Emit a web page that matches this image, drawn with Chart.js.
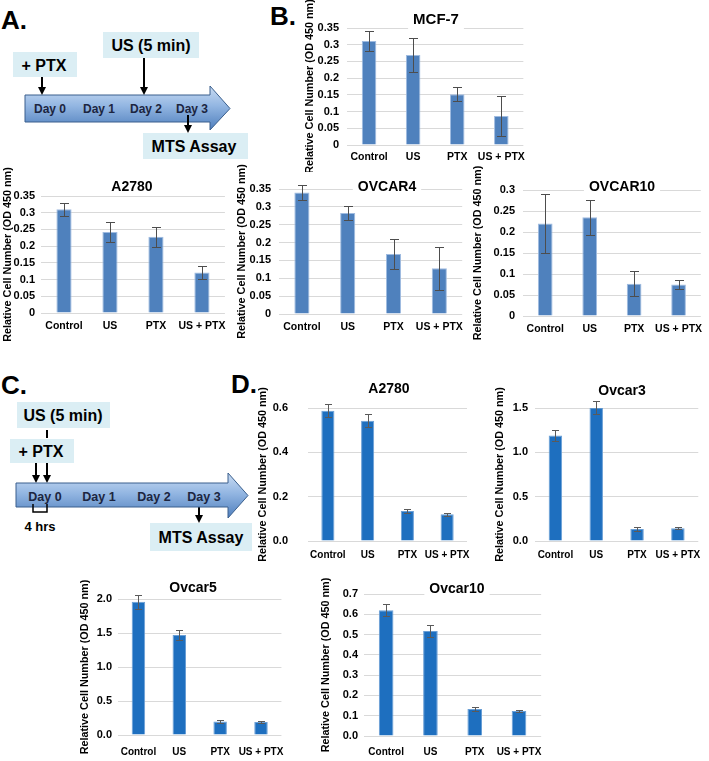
<!DOCTYPE html>
<html>
<head>
<meta charset="utf-8">
<script src="https://cdn.jsdelivr.net/npm/chart.js@4.4.1/dist/chart.umd.min.js"></script>
<style>
  body { margin: 0; background: #fff; width: 709px; height: 761px; position: relative; overflow: hidden; }
  svg { position: absolute; left: 0; top: 0; }
  canvas { position: absolute; }
  svg text { font-family: 'Liberation Sans', Arial, sans-serif; font-weight: bold; }
</style>
</head>
<body>

<svg width="709" height="761">
  <defs>
    <linearGradient id="ag" x1="0" y1="0" x2="0" y2="1">
      <stop offset="0" stop-color="#c9dcf3"/>
      <stop offset="0.45" stop-color="#93b6e2"/>
      <stop offset="1" stop-color="#4f7fbd"/>
    </linearGradient>
  </defs>

  <!-- panel letters -->
  <text x="1" y="29" font-size="26">A.</text>
  <text x="270" y="25" font-size="26">B.</text>
  <text x="1" y="394" font-size="26">C.</text>
  <text x="231" y="393" font-size="26">D.</text>

  <!-- A: timeline -->
  <rect x="13" y="52" width="64" height="25" fill="#dbeef4"/>
  <text x="44" y="70.5" font-size="16" text-anchor="middle">+ PTX</text>
  <rect x="103" y="32" width="96" height="26" fill="#dbeef4"/>
  <text x="151" y="51" font-size="16" text-anchor="middle">US (5 min)</text>
  <path d="M25,95 H210 V86 L230,108.5 L210,130 V122 H25 Z" fill="url(#ag)" stroke="#3a5f8d" stroke-width="1"/>
  <g font-size="12" fill="#1c2540" text-anchor="middle">
    <text x="50" y="112.5">Day 0</text>
    <text x="99" y="112.5">Day 1</text>
    <text x="146" y="112.5">Day 2</text>
    <text x="192" y="112.5">Day 3</text>
  </g>
  <g stroke="#000" stroke-width="2">
    <line x1="42" y1="77" x2="42" y2="88"/>
    <line x1="144" y1="58" x2="144" y2="88"/>
    <line x1="188" y1="115" x2="188" y2="126"/>
  </g>
  <g fill="#000">
    <path d="M38,87 H46 L42,95 Z"/>
    <path d="M140,87 H148 L144,95 Z"/>
    <path d="M184,125 H192 L188,133 Z"/>
  </g>
  <rect x="143" y="133" width="105" height="26" fill="#dbeef4"/>
  <text x="194" y="152" font-size="16" text-anchor="middle">MTS Assay</text>

  <!-- C: timeline -->
  <rect x="17" y="402" width="93" height="26" fill="#dbeef4"/>
  <text x="63" y="421" font-size="16" text-anchor="middle">US (5 min)</text>
  <line x1="47" y1="430" x2="47" y2="438" stroke="#000" stroke-width="2"/>
  <rect x="10" y="439" width="64" height="24" fill="#dbeef4"/>
  <text x="41" y="457" font-size="16" text-anchor="middle">+ PTX</text>
  <g stroke="#000" stroke-width="2">
    <line x1="36" y1="463" x2="36" y2="476"/>
    <line x1="47" y1="463" x2="47" y2="476"/>
    <line x1="199" y1="507" x2="199" y2="516"/>
  </g>
  <g fill="#000">
    <path d="M32,475 H40 L36,483 Z"/>
    <path d="M43,475 H51 L47,483 Z"/>
    <path d="M195,515 H203 L199,523 Z"/>
  </g>
  <path d="M16,483 H228 V473 L248,495.5 L228,518 V507 H16 Z" fill="url(#ag)" stroke="#3a5f8d" stroke-width="1"/>
  <g font-size="12.5" fill="#1c2540" text-anchor="middle">
    <text x="45" y="500.5">Day 0</text>
    <text x="99" y="500.5">Day 1</text>
    <text x="154" y="500.5">Day 2</text>
    <text x="204" y="500.5">Day 3</text>
  </g>
  <path d="M33,504 V512 H47 V504" fill="none" stroke="#000" stroke-width="1.5"/>
  <text x="40" y="531" font-size="13" text-anchor="middle">4 hrs</text>
  <rect x="150" y="523" width="102" height="28" fill="#dbeef4"/>
  <text x="201" y="543" font-size="16" text-anchor="middle">MTS Assay</text>
</svg>

<canvas id="mcf7"></canvas>
<canvas id="a2780"></canvas>
<canvas id="ovcar4"></canvas>
<canvas id="ovcar10"></canvas>
<canvas id="a2780d"></canvas>
<canvas id="ovcar3"></canvas>
<canvas id="ovcar5"></canvas>
<canvas id="ovcar10d"></canvas>

<script>
const groups = ['Control', 'US', 'PTX', 'US + PTX'];

// panel B / first row (OD 450 nm), mean and error bar
const mcf7Mean = [0.311, 0.269, 0.152, 0.087];
const mcf7Err = [0.029, 0.05, 0.021, 0.06];
const a2780Mean = [0.31, 0.242, 0.228, 0.121];
const a2780Err = [0.02, 0.03, 0.03, 0.02];
const ovcar4Mean = [0.34, 0.283, 0.168, 0.128];
const ovcar4Err = [0.02, 0.02, 0.042, 0.061];
const ovcar10Mean = [0.22, 0.235, 0.077, 0.075];
const ovcar10Err = [0.07, 0.041, 0.03, 0.01];

// panel D
const a2780dMean = [0.588, 0.543, 0.135, 0.121];
const a2780dErr = [0.03, 0.03, 0.008, 0.006];
const ovcar3Mean = [1.19, 1.505, 0.135, 0.145];
const ovcar3Err = [0.065, 0.075, 0.02, 0.01];
const ovcar5Mean = [1.96, 1.47, 0.2, 0.19];
const ovcar5Err = [0.1, 0.08, 0.02, 0.012];
const ovcar10dMean = [0.62, 0.517, 0.133, 0.123];
const ovcar10dErr = [0.03, 0.028, 0.008, 0.006];

Chart.defaults.font.family = "'Liberation Sans', Arial, sans-serif";
Chart.defaults.font.weight = 'bold';
Chart.defaults.color = '#000';

// draw error bars on top of the bars
const errBars = {
  id: 'errBars',
  afterDatasetsDraw(chart, args, opts) {
    const ctx = chart.ctx, y = chart.scales.y;
    const ds = chart.data.datasets[0];
    chart.getDatasetMeta(0).data.forEach((b, i) => {
      const m = ds.data[i], e = ds.err[i];
      const hi = Math.round(y.getPixelForValue(m + e)) + 0.5;
      const lo = Math.round(y.getPixelForValue(m - e)) + 0.5;
      const x = Math.round(b.x) + 0.5;
      ctx.save();
      ctx.strokeStyle = opts.color;
      ctx.lineWidth = 1;
      ctx.beginPath();
      ctx.moveTo(x, hi); ctx.lineTo(x, lo);
      ctx.moveTo(x - opts.cap, hi); ctx.lineTo(x + opts.cap, hi);
      ctx.moveTo(x - opts.cap, lo); ctx.lineTo(x + opts.cap, lo);
      ctx.stroke();
      ctx.restore();
    });
  }
};

// chart title with a white box behind it (it sits over the top gridline)
const boxTitle = {
  id: 'boxTitle',
  beforeDatasetsDraw(chart, args, o) {
    const ctx = chart.ctx;
    ctx.save();
    ctx.font = 'bold ' + o.size + "px 'Liberation Sans', Arial, sans-serif";
    const w = ctx.measureText(o.text).width;
    ctx.fillStyle = '#fff';
    ctx.fillRect(o.x - w / 2 - 5, o.y - o.size * 0.6, w + 10, o.size * 1.2);
    ctx.fillStyle = '#000';
    ctx.textAlign = 'center';
    ctx.textBaseline = 'middle';
    ctx.fillText(o.text, o.x, o.y);
    ctx.restore();
  }
};

function barChart(id, box, plot, o) {
  const cv = document.getElementById(id);
  cv.width = box.r - box.l;
  cv.height = box.b - box.t;
  cv.style.left = box.l + 'px';
  cv.style.top = box.t + 'px';
  return new Chart(cv, {
    type: 'bar',
    data: {
      labels: groups,
      datasets: [{
        data: o.mean,
        err: o.err,
        backgroundColor: o.color,
        borderColor: o.edge,
        borderWidth: 1,
        barPercentage: 0.33,
        categoryPercentage: 1
      }]
    },
    options: {
      responsive: false,
      animation: false,
      layout: { padding: { top: plot.t - box.t, right: box.r - plot.r, left: 0, bottom: 0 } },
      plugins: {
        legend: { display: false },
        tooltip: { enabled: false },
        boxTitle: { text: o.title, size: o.tsize, x: o.tx - box.l, y: o.ty - box.t },
        errBars: { color: o.errColor, cap: o.cap }
      },
      scales: {
        x: {
          grid: { display: false, drawTicks: false },
          border: { display: false },
          ticks: { font: { size: o.xfs, weight: 'bold' }, color: '#000', padding: o.catY - plot.b - o.xfs * 0.6, maxRotation: 0, autoSkip: false },
          afterFit(s) { s.height = box.b - plot.b; }
        },
        y: {
          min: 0,
          max: o.max,
          ticks: {
            stepSize: o.step,
            font: { size: o.yfs, weight: 'bold' },
            color: '#000',
            padding: o.tpad,
            callback: v => o.dec != null ? v.toFixed(o.dec) : String(+v.toFixed(2))
          },
          grid: { color: '#d9d9d9', drawTicks: false, lineWidth: 1 },
          border: { display: false },
          title: {
            display: true,
            text: 'Relative Cell Number (OD 450 nm)',
            font: { size: 10.8, weight: 'bold' },
            color: '#000',
            padding: 0
          },
          afterFit(s) { s.width = plot.l - box.l; }
        }
      }
    },
    plugins: [boxTitle, errBars]
  });
}

const setA = { color: '#4f81bd', edge: '#9fbbe0', errColor: '#4d4d4d', cap: 4.5, xfs: 10.5, yfs: 11, tsize: 14, tpad: 7 };
const setD = { color: '#1e6fbf', edge: '#6a9fd6', errColor: '#5a5a5a', cap: 3.5, xfs: 10, yfs: 11, tsize: 14, dec: 1, tpad: 7 };

barChart('mcf7', { l: 304, t: 0, r: 531, b: 172 }, { l: 347, r: 527, t: 28, b: 145 },
  Object.assign({}, setA, { mean: mcf7Mean, err: mcf7Err, title: 'MCF-7', tsize: 15, tx: 436, ty: 20, catY: 157, max: 0.35, step: 0.05, tpad: 8 }));

barChart('a2780', { l: 2, t: 162, r: 233, b: 345 }, { l: 41, r: 226, t: 196, b: 313 },
  Object.assign({}, setA, { mean: a2780Mean, err: a2780Err, title: 'A2780', tx: 132, ty: 187, catY: 326, max: 0.35, step: 0.05, tpad: 6 }));

barChart('ovcar4', { l: 236, t: 162, r: 470, b: 345 }, { l: 279, r: 466, t: 189, b: 314 },
  Object.assign({}, setA, { mean: ovcar4Mean, err: ovcar4Err, title: 'OVCAR4', tx: 387, ty: 187, catY: 327, max: 0.35, step: 0.05, tpad: 8 }));

barChart('ovcar10', { l: 472, t: 162, r: 709, b: 345 }, { l: 523, r: 707, t: 190, b: 316 },
  Object.assign({}, setA, { mean: ovcar10Mean, err: ovcar10Err, title: 'OVCAR10', tx: 622, ty: 187, catY: 329, max: 0.3, step: 0.05, tpad: 8 }));

barChart('a2780d', { l: 257, t: 372, r: 478, b: 570 }, { l: 308, r: 474, t: 408, b: 541 },
  Object.assign({}, setD, { mean: a2780dMean, err: a2780dErr, title: 'A2780', tx: 389, ty: 389, catY: 555, max: 0.6, step: 0.2, tpad: 20 }));

barChart('ovcar3', { l: 494, t: 372, r: 709, b: 570 }, { l: 535, r: 703, t: 408, b: 541 },
  Object.assign({}, setD, { mean: ovcar3Mean, err: ovcar3Err, title: 'Ovcar3', tx: 622, ty: 391, catY: 555, max: 1.5, step: 0.5 }));

barChart('ovcar5', { l: 79, t: 572, r: 295, b: 761 }, { l: 118, r: 290, t: 599, b: 735 },
  Object.assign({}, setD, { mean: ovcar5Mean, err: ovcar5Err, title: 'Ovcar5', tx: 193, ty: 588, catY: 752, max: 2.0, step: 0.5, tpad: 6 }));

barChart('ovcar10d', { l: 320, t: 572, r: 552, b: 761 }, { l: 364, r: 547, t: 594, b: 736 },
  Object.assign({}, setD, { mean: ovcar10dMean, err: ovcar10dErr, title: 'Ovcar10', tx: 457, ty: 589, catY: 752, max: 0.7, step: 0.1, tpad: 6 }));
</script>
</body>
</html>
